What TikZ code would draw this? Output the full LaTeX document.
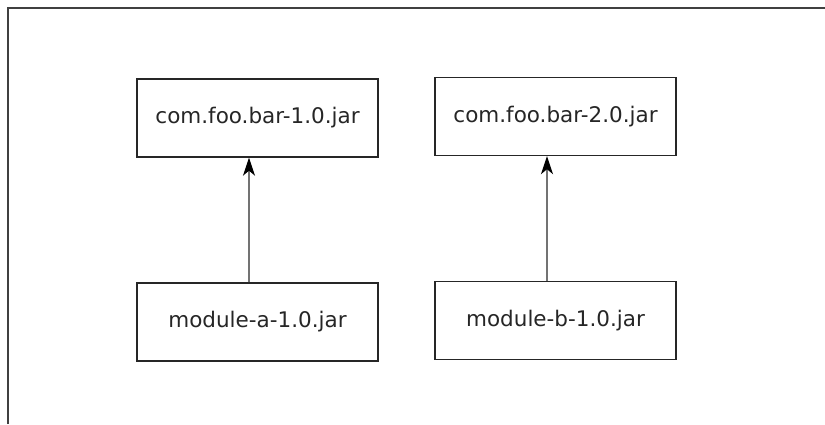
\documentclass[tikz,border=0pt]{standalone}
\usepackage{fontspec}
\setmainfont{DejaVu Sans}
\usetikzlibrary{arrows.meta}
\begin{document}
\begin{tikzpicture}[x=1pt,y=-1pt,
  jarbox/.style={draw=black!85, line width=1.4pt, minimum width=241pt, minimum height=78pt, inner sep=0pt, font=\fontsize{21.5}{24}\selectfont, text=black!85},
  dep/.style={draw=black!55, line width=1.2pt, -{Stealth[length=18pt,width=12pt,inset=5pt,color=black]}}]
\useasboundingbox (0,0) rectangle (825,424);
\draw[black!75, line width=2pt] (7.5,424) -- (7.5,7.5) -- (825,7.5);
\node[jarbox] (bar1) at (257.5,118) {com.foo.bar-1.0.jar};
\node[jarbox] (bar2) at (555.5,116.5) {com.foo.bar-2.0.jar};
\node[jarbox] (moda) at (257.5,322) {module-a-1.0.jar};
\node[jarbox] (modb) at (555.5,320.5) {module-b-1.0.jar};
\coordinate (a1) at ([xshift=-8.5pt]moda.north);
\coordinate (a2) at ([xshift=-8.5pt]bar1.south);
\coordinate (b1) at ([xshift=-8.5pt]modb.north);
\coordinate (b2) at ([xshift=-8.5pt]bar2.south);
\draw[dep] (a1) -- (a2);
\draw[dep] (b1) -- (b2);
\end{tikzpicture}
\end{document}
